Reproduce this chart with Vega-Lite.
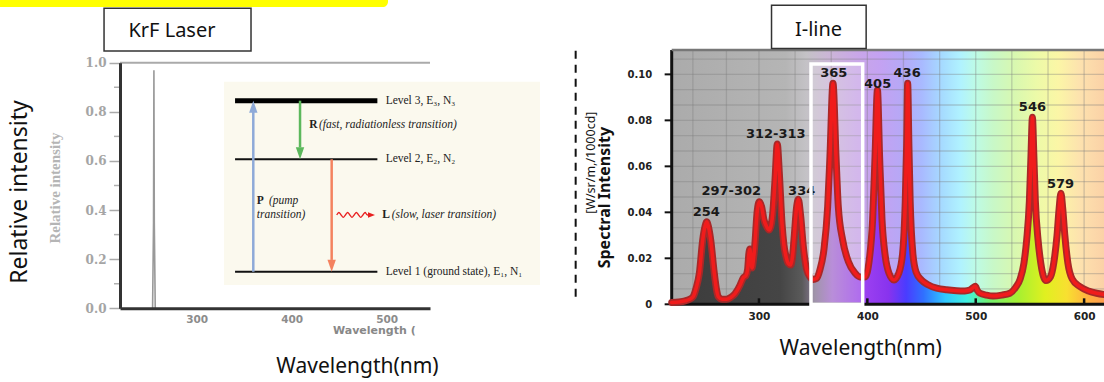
{
  "$schema": "https://vega.github.io/schema/vega-lite/v6.json",
  "width": 1104,
  "height": 382,
  "autosize": {"type": "none"},
  "padding": 0,
  "background": "white",
  "config": {"view": {"stroke": null}, "axis": {"grid": false}},
  "resolve": {"scale": {"x": "independent", "y": "independent"}, "axis": {"x": "independent", "y": "independent"}},
  "layer": [
    {
      "encoding": {
        "x": {"field": "x", "type": "quantitative",
          "scale": {"domain": [219.3, 545.6], "range": [120, 430], "nice": false, "zero": false},
          "axis": {"orient": "bottom", "offset": -73.7, "values": [300, 400, 500], "title": null, "domainColor": "#333", "domainWidth": 3, "ticks": false, "labelFont": "DejaVu Sans", "labelFontWeight": "bold", "labelFontSize": 10.5, "labelColor": "#8c8c8c", "labelPadding": 6, "grid": false, "zindex": 1}},
        "y": {"field": "y", "type": "quantitative",
          "scale": {"domain": [0, 1], "range": [308.3, 62.7], "nice": false, "zero": false},
          "axis": {"orient": "left", "offset": -120, "values": [0, 0.2, 0.4, 0.6, 0.8, 1], "format": ".1f", "title": null, "domainColor": "#333", "domainWidth": 3, "tickColor": "#aaa", "tickSize": 11, "tickWidth": 1.5, "labelFont": "DejaVu Serif", "labelFontWeight": "bold", "labelFontSize": 12, "labelColor": "#a5a5a5", "labelPadding": 3, "grid": false, "zindex": 1}}
      },
      "layer": [
        {"data": {"values": [{"x": 93, "x2": 501.4, "y": 1.2268, "y2": 1.27}]},
         "mark": {"type": "rect", "fill": "#ffff00", "cornerRadiusBottomRight": 12},
         "encoding": {"x2": {"field": "x2"}, "y2": {"field": "y2"}}},
        {"data": {"values": [{"x": 202.5, "x2": 357.2, "y": 1.0476, "y2": 1.2215}]},
         "mark": {"type": "rect", "fill": "white", "stroke": "#333", "strokeWidth": 1.5},
         "encoding": {"x2": {"field": "x2"}, "y2": {"field": "y2"}}},
        {"data": {"values": [{"x": 274, "y": 1.1291, "t": "KrF  Laser"}]},
         "mark": {"type": "text", "font": "Noto Sans", "fontSize": 20, "color": "#111"},
         "encoding": {"text": {"field": "t"}}},
        {"data": {"values": [{"x": 114, "y": 0.4735, "t": "Relative intensity"}]},
         "mark": {"type": "text", "font": "Noto Sans", "fontSize": 23, "angle": 270, "color": "#111"},
         "encoding": {"text": {"field": "t"}}},
        {"data": {"values": [{"x": 150.5, "y": 0.4898, "t": "Relative intensity"}]},
         "mark": {"type": "text", "font": "Liberation Sans Narrow", "fontWeight": "bold", "fontSize": 15, "angle": 270, "color": "#b5b5b5"},
         "encoding": {"text": {"field": "t"}}},
        {"data": {"values": [{"x": 219.3, "x2": 545.6, "y": 1}]},
         "mark": {"type": "rule", "color": "#aaa", "strokeWidth": 2},
         "encoding": {"x2": {"field": "x2"}}},
        {"data": {"values": [{"x": 213, "x2": 219.3, "y": 0.1}, {"x": 213, "x2": 219.3, "y": 0.3}, {"x": 213, "x2": 219.3, "y": 0.5}, {"x": 213, "x2": 219.3, "y": 0.7}, {"x": 213, "x2": 219.3, "y": 0.9}]},
         "mark": {"type": "rule", "color": "#b0b0b0", "strokeWidth": 1.5},
         "encoding": {"x2": {"field": "x2"}}},
        {"data": {"values": [{"x": 253.6, "y": 0}, {"x": 254.6, "y": 0.35}, {"x": 255, "y": 0.969}, {"x": 255.4, "y": 0.35}, {"x": 256.4, "y": 0}]},
         "mark": {"type": "line", "color": "#999", "strokeWidth": 1.6}},
        {"data": {"values": [{"x": 328.8, "x2": 661.4, "y": 0.0949, "y2": 0.9226}]},
         "mark": {"type": "rect", "fill": "#fbf9ee"},
         "encoding": {"x2": {"field": "x2"}, "y2": {"field": "y2"}}},
        {"data": {"values": [{"x": 340.4, "x2": 490.2, "y": 0.6067}, {"x": 340.4, "x2": 490.2, "y": 0.149}]},
         "mark": {"type": "rule", "color": "#111", "strokeWidth": 2},
         "encoding": {"x2": {"field": "x2"}}},
        {"data": {"values": [{"x": 340.4, "x2": 490.2, "y": 0.8453}]},
         "mark": {"type": "rule", "color": "#000", "strokeWidth": 5},
         "encoding": {"x2": {"field": "x2"}}},
        {"data": {"values": [{"x": 359.6, "y": 0.149, "y2": 0.8, "a": "P"}, {"x": 408.8, "y": 0.8453, "y2": 0.655, "a": "R"}, {"x": 442.1, "y": 0.6067, "y2": 0.197, "a": "L"}]},
         "mark": {"type": "rule", "strokeWidth": 2.5},
         "encoding": {"y2": {"field": "y2"}, "color": {"field": "a", "type": "nominal", "scale": {"domain": ["P", "R", "L"], "range": ["#8eaad8", "#5cb85c", "#f4825f"]}, "legend": null}}},
        {"data": {"values": [{"x": 359.6, "y": 0.8453, "a": "P"}]},
         "mark": {"type": "point", "shape": "M0,0 L0.7,2 L-0.7,2 Z", "size": 144, "filled": true, "opacity": 1},
         "encoding": {"color": {"field": "a", "type": "nominal", "legend": null}}},
        {"data": {"values": [{"x": 408.8, "y": 0.6067, "a": "R"}, {"x": 442.1, "y": 0.149, "a": "L"}]},
         "mark": {"type": "point", "shape": "M0,0 L0.7,-2 L-0.7,-2 Z", "size": 144, "filled": true, "opacity": 1},
         "encoding": {"color": {"field": "a", "type": "nominal", "legend": null}}},
        {"data": {"values": [{"x": 447.4, "y": 0.38}, {"x": 449.7, "y": 0.39}, {"x": 452.0, "y": 0.38}, {"x": 454.3, "y": 0.37}, {"x": 456.6, "y": 0.38}, {"x": 458.9, "y": 0.39}, {"x": 461.2, "y": 0.38}, {"x": 463.5, "y": 0.37}, {"x": 465.8, "y": 0.38}, {"x": 468.1, "y": 0.39}, {"x": 470.4, "y": 0.38}, {"x": 472.7, "y": 0.37}, {"x": 475.0, "y": 0.38}, {"x": 477.3, "y": 0.39}, {"x": 479.6, "y": 0.38}, {"x": 484.0, "y": 0.38}]},
         "mark": {"type": "line", "color": "#e82020", "strokeWidth": 1.3, "interpolate": "cardinal"}},
        {"data": {"values": [{"x": 487.7, "y": 0.38}]},
         "mark": {"type": "point", "shape": "M0,0 L-2,-0.8 L-2,0.8 Z", "size": 49, "filled": true, "color": "#e82020", "opacity": 1}},
        {"data": {"values": [{"x": 498.9, "y": 0.8453, "t": "Level 3, E₃, N₃"}, {"x": 498.9, "y": 0.6067, "t": "Level 2, E₂, N₂"}, {"x": 498.9, "y": 0.149, "t": "Level 1 (ground state), E₁, N₁"}]},
         "mark": {"type": "text", "align": "left", "font": "Liberation Serif", "fontSize": 11.5, "color": "#222"},
         "encoding": {"text": {"field": "t"}}},
        {"data": {"values": [{"x": 418.6, "y": 0.7463, "t": "R"}, {"x": 363.2, "y": 0.4369, "t": "P"}, {"x": 495.3, "y": 0.3799, "t": "L"}]},
         "mark": {"type": "text", "align": "left", "font": "Liberation Serif", "fontWeight": "bold", "fontSize": 11.5, "color": "#222"},
         "encoding": {"text": {"field": "t"}}},
        {"data": {"values": [{"x": 428.8, "y": 0.7463, "t": "(fast, radiationless transition)"}, {"x": 376.1, "y": 0.4369, "t": "(pump"}, {"x": 363.2, "y": 0.3799, "t": "transition)"}, {"x": 505.3, "y": 0.3799, "t": "(slow, laser transition)"}]},
         "mark": {"type": "text", "align": "left", "font": "Liberation Serif", "fontStyle": "italic", "fontSize": 11.5, "color": "#222"},
         "encoding": {"text": {"field": "t"}}},
        {"data": {"values": [{"x": 443.5, "y": -0.0924, "t": "Wavelength ("}]},
         "mark": {"type": "text", "align": "left", "font": "DejaVu Sans", "fontWeight": "bold", "fontSize": 11, "color": "#888"},
         "encoding": {"text": {"field": "t"}}},
        {"data": {"values": [{"x": 469.3, "y": -0.239, "t": "Wavelength(nm)"}]},
         "mark": {"type": "text", "font": "Noto Sans", "fontSize": 21, "color": "#111"},
         "encoding": {"text": {"field": "t"}}}
      ]
    },
    {
      "encoding": {
        "x": {"field": "x", "type": "quantitative",
          "scale": {"domain": [219.5, 620], "range": [671.7, 1105.8], "nice": false, "zero": false},
          "axis": {"orient": "bottom", "offset": -77.7, "values": [300, 400, 500, 600], "title": null, "domain": false, "ticks": false, "labelFont": "DejaVu Sans", "labelFontWeight": "bold", "labelFontSize": 10.5, "labelColor": "#222", "labelPadding": 7, "grid": false, "zindex": 1}},
        "y": {"field": "y", "type": "quantitative",
          "scale": {"domain": [0, 0.1106], "range": [304.3, 50], "nice": false, "zero": false},
          "axis": {"orient": "left", "offset": -671.7, "values": [0, 0.02, 0.04, 0.06, 0.08, 0.1], "labelExpr": "datum.value == 0 ? '0' : format(datum.value, '.2f')", "title": null, "domain": false, "ticks": false, "labelFont": "DejaVu Sans", "labelFontWeight": "bold", "labelFontSize": 10, "labelColor": "#222", "labelPadding": 20, "grid": false, "zindex": 1}}
      },
      "layer": [
        {"data": {"values": [{"x": 219.5, "x2": 620, "y": 0, "y2": 0.1106}]},
         "mark": {"type": "rect", "fill": {"gradient": "linear", "x1": 0, "y1": 0, "x2": 1, "y2": 0, "stops": [
            {"offset": 0, "color": "#ababab"}, {"offset": 0.263, "color": "#b5b5b5"}, {"offset": 0.31, "color": "#c4c2c6"},
            {"offset": 0.36, "color": "#cbb6d6"}, {"offset": 0.43, "color": "#c9a6e8"}, {"offset": 0.48, "color": "#c4a2f2"},
            {"offset": 0.53, "color": "#b6a8f6"}, {"offset": 0.575, "color": "#a9b9ff"}, {"offset": 0.625, "color": "#a6dcff"},
            {"offset": 0.665, "color": "#b0f2ff"}, {"offset": 0.7, "color": "#bdfbe6"}, {"offset": 0.74, "color": "#c8f8c8"},
            {"offset": 0.79, "color": "#d8f8b0"}, {"offset": 0.84, "color": "#ecfaa8"}, {"offset": 0.89, "color": "#fbf6a6"},
            {"offset": 0.94, "color": "#fde2ae"}, {"offset": 1, "color": "#fbd0a6"}]}},
         "encoding": {"x2": {"field": "x2"}, "y2": {"field": "y2"}}},
        {"data": {"values": [{"x": 239, "y": 0, "y2": 0.1106}, {"x": 270, "y": 0, "y2": 0.1106}, {"x": 300, "y": 0, "y2": 0.1106}, {"x": 333.3, "y": 0, "y2": 0.1106}, {"x": 366.7, "y": 0, "y2": 0.1106}, {"x": 400, "y": 0, "y2": 0.1106}, {"x": 433.3, "y": 0, "y2": 0.1106}, {"x": 466.7, "y": 0, "y2": 0.1106}, {"x": 500, "y": 0, "y2": 0.1106}, {"x": 533.3, "y": 0, "y2": 0.1106}, {"x": 566.7, "y": 0, "y2": 0.1106}, {"x": 600, "y": 0, "y2": 0.1106}]},
         "mark": {"type": "rule", "color": "#7a7a7a", "strokeWidth": 1.3, "opacity": 0.35},
         "encoding": {"y2": {"field": "y2"}}},
        {"data": {"values": [{"x": 219.5, "x2": 620, "y": 0.00667}, {"x": 219.5, "x2": 620, "y": 0.01333}, {"x": 219.5, "x2": 620, "y": 0.02}, {"x": 219.5, "x2": 620, "y": 0.02667}, {"x": 219.5, "x2": 620, "y": 0.03333}, {"x": 219.5, "x2": 620, "y": 0.04}, {"x": 219.5, "x2": 620, "y": 0.04667}, {"x": 219.5, "x2": 620, "y": 0.05333}, {"x": 219.5, "x2": 620, "y": 0.06}, {"x": 219.5, "x2": 620, "y": 0.06667}, {"x": 219.5, "x2": 620, "y": 0.07333}, {"x": 219.5, "x2": 620, "y": 0.08}, {"x": 219.5, "x2": 620, "y": 0.08667}, {"x": 219.5, "x2": 620, "y": 0.09333}, {"x": 219.5, "x2": 620, "y": 0.1}, {"x": 219.5, "x2": 620, "y": 0.10667}]},
         "mark": {"type": "rule", "color": "#7a7a7a", "strokeWidth": 1.3, "opacity": 0.35},
         "encoding": {"x2": {"field": "x2"}}},
        {"data": {"name": "hg"},
         "mark": {"type": "area", "interpolate": "monotone", "fill": {"gradient": "linear", "x1": 0, "y1": 0, "x2": 1, "y2": 0, "stops": [
            {"offset": 0, "color": "#3c3c3c"}, {"offset": 0.25, "color": "#454545"}, {"offset": 0.3, "color": "#5a5a5a"},
            {"offset": 0.33, "color": "#8a7a96"}, {"offset": 0.37, "color": "#a872d0"}, {"offset": 0.45, "color": "#9a3ff0"},
            {"offset": 0.5, "color": "#8833ee"}, {"offset": 0.54, "color": "#4a3cff"}, {"offset": 0.58, "color": "#3070ff"},
            {"offset": 0.63, "color": "#30c8ff"}, {"offset": 0.68, "color": "#40f0e0"}, {"offset": 0.73, "color": "#70f070"},
            {"offset": 0.8, "color": "#a8f030"}, {"offset": 0.86, "color": "#e0f020"}, {"offset": 0.91, "color": "#f8e030"},
            {"offset": 0.96, "color": "#ffb040"}, {"offset": 1, "color": "#ff9a50"}]}}},
        {"data": {"values": [{"x": 348, "x2": 395.7, "y": 0, "y2": 0.1045}]},
         "mark": {"type": "rect", "fill": "white", "opacity": 0.2},
         "encoding": {"x2": {"field": "x2"}, "y2": {"field": "y2"}}},
        {"data": {"values": [{"x": 219.5, "y": 0, "y2": 0.1106}]},
         "mark": {"type": "rule", "color": "#111", "strokeWidth": 3},
         "encoding": {"y2": {"field": "y2"}}},
        {"data": {"values": [{"x": 219.5, "x2": 620, "y": 0}]},
         "mark": {"type": "rule", "color": "#111", "strokeWidth": 3},
         "encoding": {"x2": {"field": "x2"}}},
        {"data": {"values": [{"x": 213.0, "x2": 219.5, "y": 0}, {"x": 213.0, "x2": 219.5, "y": 0.02}, {"x": 213.0, "x2": 219.5, "y": 0.04}, {"x": 213.0, "x2": 219.5, "y": 0.06}, {"x": 213.0, "x2": 219.5, "y": 0.08}, {"x": 213.0, "x2": 219.5, "y": 0.1}]},
         "mark": {"type": "rule", "color": "#111", "strokeWidth": 2},
         "encoding": {"x2": {"field": "x2"}}},
        {"data": {"values": [{"x": 300, "y": 0, "y2": 0.0026}, {"x": 400, "y": 0, "y2": 0.0026}, {"x": 500, "y": 0, "y2": 0.0026}, {"x": 600, "y": 0, "y2": 0.0026}]},
         "mark": {"type": "rule", "color": "#111", "strokeWidth": 2.5},
         "encoding": {"y2": {"field": "y2"}}},
        {"data": {"name": "hg"},
         "mark": {"type": "line", "interpolate": "monotone", "color": "#a82828", "strokeWidth": 7, "strokeJoin": "round", "strokeCap": "round"}},
        {"data": {"name": "hg"},
         "mark": {"type": "line", "interpolate": "monotone", "color": "#f01c1c", "strokeWidth": 3.6, "strokeJoin": "round", "strokeCap": "round"}},
        {"data": {"values": [{"x": 251.4, "y": 0.04, "t": "254"}, {"x": 274.4, "y": 0.0494, "t": "297-302"}, {"x": 315.5, "y": 0.0739, "t": "312-313"}, {"x": 339.4, "y": 0.0494, "t": "334"}, {"x": 369.0, "y": 0.1004, "t": "365"}, {"x": 409.5, "y": 0.096, "t": "405"}, {"x": 436.7, "y": 0.1004, "t": "436"}, {"x": 552.3, "y": 0.0859, "t": "546"}, {"x": 578.2, "y": 0.0522, "t": "579"}]},
         "mark": {"type": "text", "font": "DejaVu Sans", "fontWeight": "bold", "fontSize": 13, "color": "#1a1a1a"},
         "encoding": {"text": {"field": "t"}}},
        {"data": {"values": [{"x": 348, "x2": 395.7, "y": 0, "y2": 0.1045}]},
         "mark": {"type": "rect", "fill": null, "stroke": "white", "strokeWidth": 3.5},
         "encoding": {"x2": {"field": "x2"}, "y2": {"field": "y2"}}},
        {"data": {"values": [{"x": 219.5, "x2": 620, "y": 0.1106}]},
         "mark": {"type": "rule", "color": "#777", "strokeWidth": 2.5},
         "encoding": {"x2": {"field": "x2"}}},
        {"data": {"values": [{"x": 158.4, "y": 0.0464, "t": "Spectral Intensity"}]},
         "mark": {"type": "text", "font": "Noto Sans", "fontWeight": "bold", "fontSize": 16, "angle": 270, "color": "#111"},
         "encoding": {"text": {"field": "t"}}},
        {"data": {"values": [{"x": 145.1, "y": 0.0616, "t": "[W/sr/m,/1000cd]"}]},
         "mark": {"type": "text", "font": "Noto Sans", "fontSize": 12.5, "angle": 270, "color": "#111"},
         "encoding": {"text": {"field": "t"}}},
        {"data": {"values": [{"x": 130.9, "y": 0.0033, "y2": 0.1106}]},
         "mark": {"type": "rule", "color": "#111", "strokeWidth": 2, "strokeDash": [8, 6]},
         "encoding": {"y2": {"field": "y2"}}},
        {"data": {"values": [{"x": 311.6, "x2": 398.9, "y": 0.1113, "y2": 0.1301}]},
         "mark": {"type": "rect", "fill": "white", "stroke": "#333", "strokeWidth": 1.5},
         "encoding": {"x2": {"field": "x2"}, "y2": {"field": "y2"}}},
        {"data": {"values": [{"x": 355, "y": 0.1193, "t": "I-line"}]},
         "mark": {"type": "text", "font": "Noto Sans", "fontSize": 20, "color": "#111"},
         "encoding": {"text": {"field": "t"}}},
        {"data": {"values": [{"x": 393.9, "y": -0.0194, "t": "Wavelength(nm)"}]},
         "mark": {"type": "text", "font": "Noto Sans", "fontSize": 21, "color": "#111"},
         "encoding": {"text": {"field": "t"}}}
      ]
    }
  ],
  "datasets": {
    "hg": [
      {"x": 219.5, "y": 0.0008}, {"x": 226, "y": 0.001}, {"x": 232, "y": 0.0015}, {"x": 236, "y": 0.0022},
      {"x": 239.2, "y": 0.0033}, {"x": 242, "y": 0.007}, {"x": 245, "y": 0.0135}, {"x": 248.1, "y": 0.028},
      {"x": 250.3, "y": 0.034}, {"x": 251.8, "y": 0.0359}, {"x": 253.3, "y": 0.034}, {"x": 255.5, "y": 0.028},
      {"x": 258.8, "y": 0.0135}, {"x": 261, "y": 0.006}, {"x": 262.5, "y": 0.0033}, {"x": 266, "y": 0.0022},
      {"x": 270.2, "y": 0.0022}, {"x": 274, "y": 0.003}, {"x": 277.9, "y": 0.0046}, {"x": 282.5, "y": 0.0083},
      {"x": 285.6, "y": 0.0116}, {"x": 288, "y": 0.0125}, {"x": 289.5, "y": 0.015}, {"x": 290.7, "y": 0.022},
      {"x": 291.7, "y": 0.024}, {"x": 292.6, "y": 0.019}, {"x": 293.6, "y": 0.0158}, {"x": 295, "y": 0.02},
      {"x": 296, "y": 0.0246}, {"x": 298.4, "y": 0.0406}, {"x": 300.3, "y": 0.0446}, {"x": 302.5, "y": 0.0424},
      {"x": 304.5, "y": 0.037}, {"x": 306.5, "y": 0.0344}, {"x": 309.5, "y": 0.0323}, {"x": 311.5, "y": 0.035},
      {"x": 312.7, "y": 0.0395}, {"x": 314.8, "y": 0.054}, {"x": 316.9, "y": 0.0697}, {"x": 318.8, "y": 0.057},
      {"x": 321.3, "y": 0.035}, {"x": 323, "y": 0.026}, {"x": 325, "y": 0.0207}, {"x": 327, "y": 0.0178},
      {"x": 329.3, "y": 0.0171}, {"x": 331, "y": 0.021}, {"x": 332.3, "y": 0.028}, {"x": 334.8, "y": 0.0425},
      {"x": 336.3, "y": 0.0457}, {"x": 338.5, "y": 0.0383}, {"x": 340.9, "y": 0.0253}, {"x": 344, "y": 0.0151},
      {"x": 347.1, "y": 0.0119}, {"x": 350, "y": 0.0108}, {"x": 353.3, "y": 0.0113}, {"x": 356.3, "y": 0.0151},
      {"x": 360, "y": 0.024}, {"x": 363.4, "y": 0.0425}, {"x": 365.5, "y": 0.0643}, {"x": 368.3, "y": 0.0961},
      {"x": 371.1, "y": 0.0643}, {"x": 373.2, "y": 0.0425}, {"x": 377.2, "y": 0.028}, {"x": 382.4, "y": 0.0187},
      {"x": 388.6, "y": 0.0136}, {"x": 393.2, "y": 0.0119}, {"x": 397.8, "y": 0.0119}, {"x": 401.8, "y": 0.0194},
      {"x": 404.9, "y": 0.037}, {"x": 407.1, "y": 0.0643}, {"x": 409.3, "y": 0.0932}, {"x": 411.3, "y": 0.0643},
      {"x": 413.5, "y": 0.037}, {"x": 416.5, "y": 0.021}, {"x": 420, "y": 0.0135}, {"x": 424.6, "y": 0.0106},
      {"x": 429, "y": 0.0135}, {"x": 432.5, "y": 0.022}, {"x": 435, "y": 0.045}, {"x": 436.3, "y": 0.07},
      {"x": 437.2, "y": 0.0961}, {"x": 438.3, "y": 0.07}, {"x": 439.5, "y": 0.045}, {"x": 442, "y": 0.022},
      {"x": 445, "y": 0.014}, {"x": 450, "y": 0.0105}, {"x": 456, "y": 0.0085}, {"x": 464, "y": 0.007},
      {"x": 473, "y": 0.0063}, {"x": 482.4, "y": 0.0059}, {"x": 490, "y": 0.0058}, {"x": 494.6, "y": 0.0062},
      {"x": 497.5, "y": 0.0072}, {"x": 499.6, "y": 0.0078}, {"x": 501.5, "y": 0.006}, {"x": 504, "y": 0.0048},
      {"x": 510, "y": 0.004}, {"x": 516, "y": 0.0036}, {"x": 524, "y": 0.004}, {"x": 531.5, "y": 0.0048},
      {"x": 537, "y": 0.0075}, {"x": 541, "y": 0.011}, {"x": 544.5, "y": 0.018}, {"x": 547, "y": 0.028},
      {"x": 549.5, "y": 0.045}, {"x": 551, "y": 0.065}, {"x": 552.3, "y": 0.0813}, {"x": 553.6, "y": 0.065},
      {"x": 555, "y": 0.045}, {"x": 557.5, "y": 0.028}, {"x": 560, "y": 0.018}, {"x": 564.8, "y": 0.0103},
      {"x": 569, "y": 0.012}, {"x": 572, "y": 0.018}, {"x": 575, "y": 0.03}, {"x": 577, "y": 0.042},
      {"x": 578.6, "y": 0.0483}, {"x": 580.2, "y": 0.042}, {"x": 582.2, "y": 0.03}, {"x": 585, "y": 0.018},
      {"x": 589, "y": 0.011}, {"x": 596, "y": 0.0077}, {"x": 604, "y": 0.0058}, {"x": 611.5, "y": 0.0048},
      {"x": 620, "y": 0.0042}
    ]
  }
}
